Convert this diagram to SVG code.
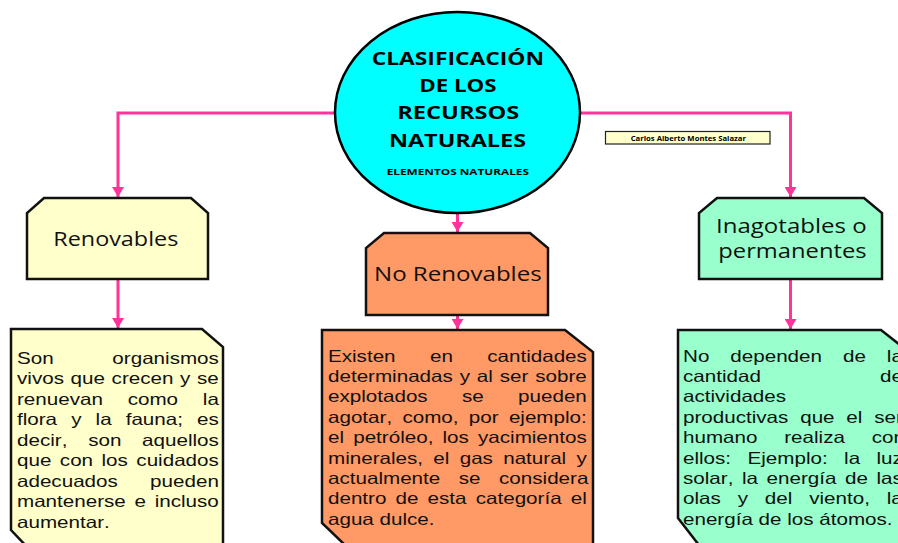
<svg xmlns="http://www.w3.org/2000/svg" width="898" height="543" viewBox="0 0 898 543">
<style>
.box{stroke:#111;stroke-width:2.5;stroke-linejoin:miter}
.conn{fill:none;stroke:#FF3399;stroke-width:3}
.head{font-family:"Open Sans","Liberation Sans",sans-serif;fill:#111}
.title{font-family:"Open Sans","Liberation Sans",sans-serif;font-weight:bold;fill:#000}
.body{font-family:"Liberation Sans",Arial,sans-serif;font-size:16.5px;fill:#111;font-kerning:none}
</style>
<defs>
<marker id="arr" viewBox="0 0 10 12" refX="10" refY="6" markerWidth="10" markerHeight="12" markerUnits="userSpaceOnUse" orient="auto">
<path d="M0,0 L10,6 L0,12 Z" fill="#FF3399"/>
</marker>
</defs>
<rect width="898" height="543" fill="#fff"/>
<g id="connectors">
<path class="conn" d="M335,113 H118 V197" marker-end="url(#arr)"/>
<path class="conn" d="M580,113 H790.5 V197" marker-end="url(#arr)"/>
<path class="conn" d="M457.5,213 V232" marker-end="url(#arr)"/>
<path class="conn" d="M118,279 V328" marker-end="url(#arr)"/>
<path class="conn" d="M457.5,315 V329" marker-end="url(#arr)"/>
<path class="conn" d="M790.5,279 V329" marker-end="url(#arr)"/>
</g>
<g id="title">
<ellipse cx="457.5" cy="112.5" rx="122.5" ry="100.5" fill="#00FFFF" stroke="#000" stroke-width="2.5"/>
<text class="title" font-size="18.6" x="371.7" y="65" textLength="172.3" lengthAdjust="spacingAndGlyphs">CLASIFICACIÓN</text>
<text class="title" font-size="18.6" x="419.3" y="91.5" textLength="77.3" lengthAdjust="spacingAndGlyphs">DE LOS</text>
<text class="title" font-size="18.6" x="397.3" y="119.3" textLength="122" lengthAdjust="spacingAndGlyphs">RECURSOS</text>
<text class="title" font-size="18.6" x="389" y="146.7" textLength="137" lengthAdjust="spacingAndGlyphs">NATURALES</text>
<text class="title" font-size="9.4" x="386.7" y="175" textLength="142.3" lengthAdjust="spacingAndGlyphs">ELEMENTOS NATURALES</text>
</g>
<g id="author">
<rect x="605.5" y="131.5" width="164.5" height="12.5" fill="#FFFFCC" stroke="#222" stroke-width="1.2"/>
<text class="title" font-size="7.4" x="630.7" y="140.5" textLength="115.3" lengthAdjust="spacingAndGlyphs">Carlos Alberto Montes Salazar</text>
</g>
<g id="renovables">
<path class="box" fill="#FFFFCC" d="M44,198 H191 L208,213 V279 H27 V213 Z"/>
<text class="head" font-size="19.5" x="53.3" y="245.7" textLength="125" lengthAdjust="spacingAndGlyphs">Renovables</text>
</g>
<g id="no-renovables">
<path class="box" fill="#FF9966" d="M384,233 H530 L548,248 V315 H366 V248 Z"/>
<text class="head" font-size="20.5" x="374" y="281" textLength="167.7" lengthAdjust="spacingAndGlyphs">No Renovables</text>
</g>
<g id="inagotables">
<path class="box" fill="#99FFCC" d="M717,198 H864 L882,213 V279 H699 V213 Z"/>
<text class="head" font-size="19.5" x="716" y="232.5" textLength="150.7" lengthAdjust="spacingAndGlyphs">Inagotables o</text>
<text class="head" font-size="19.5" x="718.3" y="258.3" textLength="148.3" lengthAdjust="spacingAndGlyphs">permanentes</text>
</g>
<g id="renovables-desc">
<path class="box" fill="#FFFFCC" d="M11,329 H202 L223,347 V549 H29 L11,530 Z"/>
<g class="body" transform="translate(17,0) scale(1.25,1)">
<text x="0" y="364" style="word-spacing:42.39px">Son organismos</text>
<text x="0" y="384.5" style="word-spacing:0.74px">vivos que crecen y se</text>
<text x="0" y="405" style="word-spacing:15.23px">renuevan como la</text>
<text x="0" y="425.5" style="word-spacing:6.69px">flora y la fauna; es</text>
<text x="0" y="446" style="word-spacing:12.02px">decir, son aquellos</text>
<text x="0" y="466.5" style="word-spacing:2.2px">que con los cuidados</text>
<text x="0" y="487" style="word-spacing:21.25px">adecuados pueden</text>
<text x="0" y="507.5" style="word-spacing:2.39px">mantenerse e incluso</text>
<text x="0" y="528">aumentar.</text>
</g>
</g>
<g id="no-renovables-desc">
<path class="box" fill="#FF9966" d="M322,330 H565 L593,352 V546 H346 L322,523 Z"/>
<g class="body" transform="translate(328,0) scale(1.25,1)">
<text x="0" y="361.7" style="word-spacing:22.92px">Existen en cantidades</text>
<text x="0" y="382.1" style="word-spacing:0.9px">determinadas y al ser sobre</text>
<text x="0" y="402.5" style="word-spacing:22.88px">explotados se pueden</text>
<text x="0" y="422.9" style="word-spacing:3.65px">agotar, como, por ejemplo:</text>
<text x="0" y="443.3" style="word-spacing:2.74px">el petróleo, los yacimientos</text>
<text x="0" y="463.7" style="word-spacing:3.66px">minerales, el gas natural y</text>
<text x="0" y="484.1" style="word-spacing:10.24px">actualmente se considera</text>
<text x="0" y="504.5" style="word-spacing:2.73px">dentro de esta categoría el</text>
<text x="0" y="525">agua dulce.</text>
</g>
</g>
<g id="inagotables-desc">
<path class="box" fill="#99FFCC" d="M678,330 H881 L909,352 V549 H702 L678,518 Z"/>
<g class="body" transform="translate(683,0) scale(1.25,1)">
<text x="0" y="361.7" style="word-spacing:12.19px">No dependen de la</text>
<text x="0" y="382.1" style="word-spacing:90.7px">cantidad de</text>
<text x="0" y="402.5">actividades</text>
<text x="0" y="422.9" style="word-spacing:4.87px">productivas que el ser</text>
<text x="0" y="443.3" style="word-spacing:16.83px">humano realiza con</text>
<text x="0" y="463.7" style="word-spacing:8.54px">ellos: Ejemplo: la luz</text>
<text x="0" y="484.1" style="word-spacing:2.27px">solar, la energía de las</text>
<text x="0" y="504.5" style="word-spacing:8.92px">olas y del viento, la</text>
<text x="0" y="525">energía de los átomos.</text>
</g>
</g>
</svg>
